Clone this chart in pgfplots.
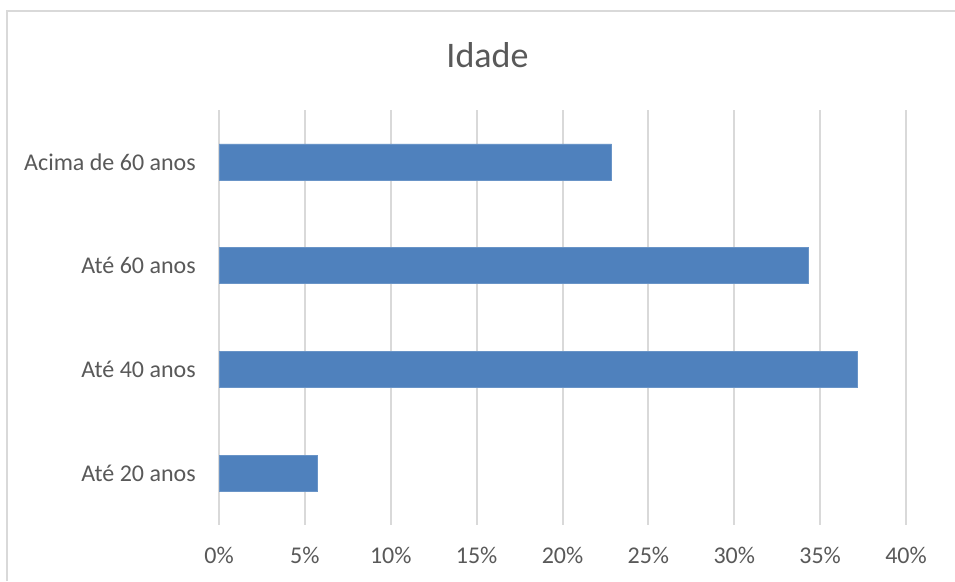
\documentclass[border=0pt]{standalone}
\usepackage{fontspec}
\setmainfont{Carlito}
\usepackage{pgfplots}
\pgfplotsset{compat=1.18}
\definecolor{barblue}{HTML}{4F81BD}
\definecolor{labelgray}{HTML}{595959}
\definecolor{gridgray}{HTML}{D9D9D9}
% one picture pixel
\newcommand{\px}{0.75pt}
\begin{document}
\begin{tikzpicture}
  % canvas and chart-area frame
  \useasboundingbox[fill=white] (0,0) rectangle ({955*\px},{581*\px});
  \draw[gridgray, line width={1.5*\px}] ({7*\px},0) -- ({7*\px},{570*\px}) -- ({955*\px},{570*\px});
  % title
  \node[anchor=base, text=labelgray, inner sep=0pt, font=\fontsize{27}{32}\selectfont]
    at ({487.5*\px},{513*\px}) {Idade};
  \begin{axis}[
    at={({219*\px},{56*\px})}, anchor=south west,
    scale only axis,
    width={687*\px}, height={415*\px},
    xbar, bar width={36*\px},
    xmin=0, xmax=40, ymin=-0.5, ymax=3.5,
    axis line style={draw=none},
    xtick={0,5,...,40},
    xticklabels={0\%,5\%,10\%,15\%,20\%,25\%,30\%,35\%,40\%},
    ytick={0,1,2,3},
    yticklabels={Até 20 anos, Até 40 anos, Até 60 anos, Acima de 60 anos},
    major tick length=0pt,
    xmajorgrids, ymajorgrids=false,
    major grid style={gridgray, line width={2*\px}},
    tick label style={text=labelgray, font=\fontsize{18}{21.6}\selectfont, inner sep=0pt},
    xticklabel style={anchor=base, yshift={-39*\px}},
    yticklabel style={anchor=east, xshift={-23*\px}},
    /pgf/number format/assume math mode=true,
    clip=false,
  ]
    % share of respondents per age group (%)
    \addplot[fill=barblue, draw=barblue!85!white, line width=0.4pt] coordinates {
      (5.71,0) (37.14,1) (34.29,2) (22.86,3)
    };
  \end{axis}
\end{tikzpicture}
\end{document}
